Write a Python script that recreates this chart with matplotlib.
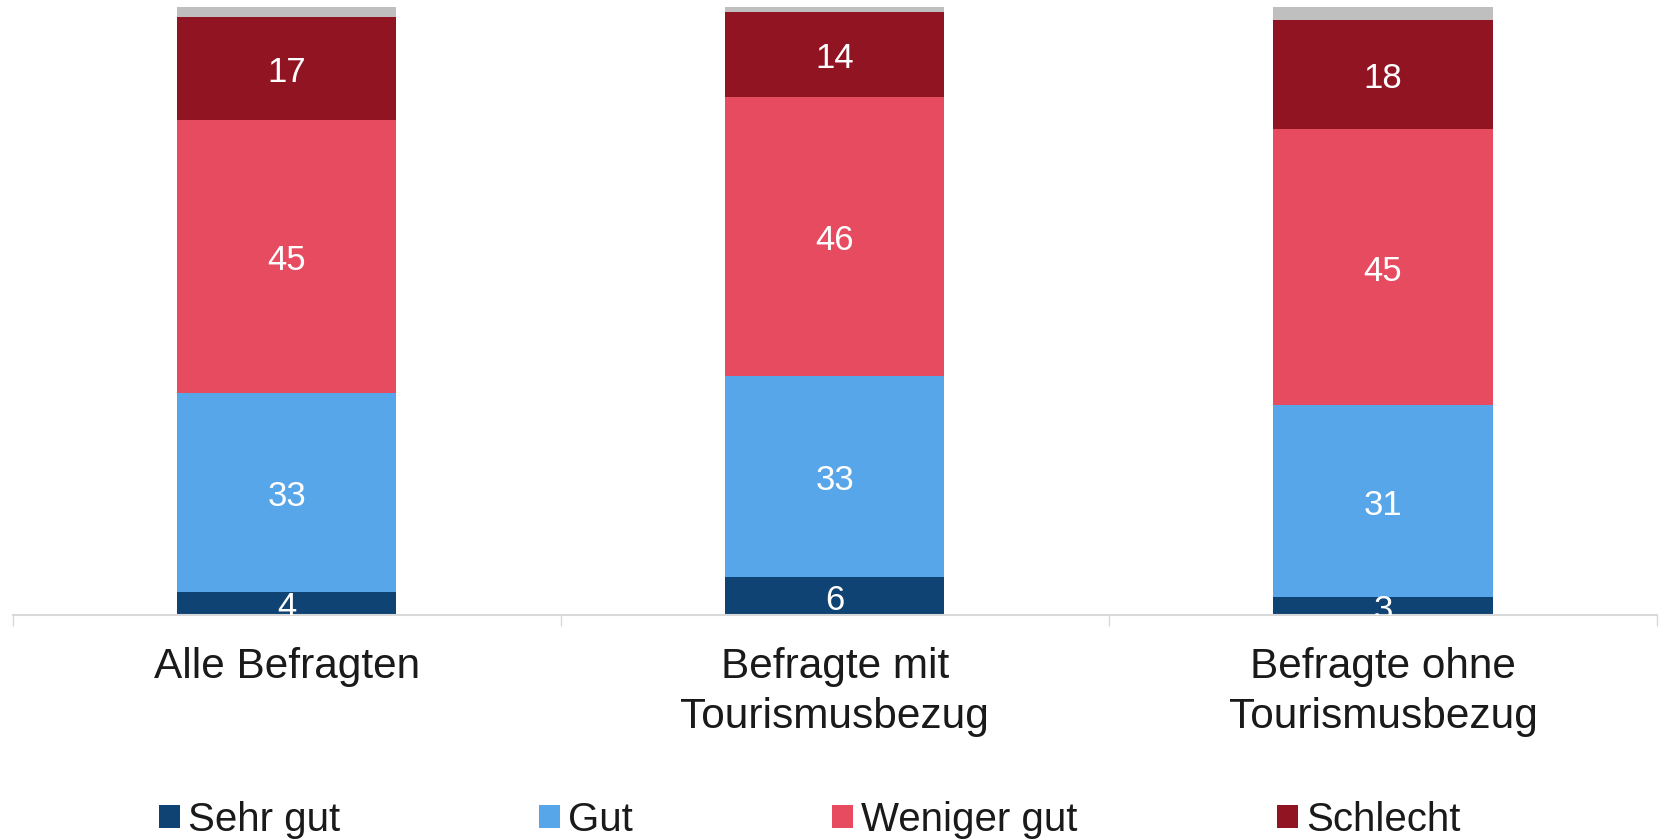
import matplotlib
matplotlib.use("Agg")
import matplotlib.pyplot as plt
import numpy as np

plt.rcParams['font.family'] = ['Liberation Sans', 'DejaVu Sans']

categories = ["Alle Befragten", "Befragte mit\nTourismusbezug", "Befragte ohne\nTourismusbezug"]
series_names = ["Sehr gut", "Gut", "Weniger gut", "Schlecht"]
sehr_gut = [3.8, 6.3, 3.0]
gut = [32.8, 33.1, 31.5]
weniger_gut = [44.8, 45.8, 45.5]
schlecht = [17.1, 14.1, 17.9]
keine_angabe = [1.5, 0.7, 2.1]
labels_sehr_gut = ["4", "6", "3"]
labels_gut = ["33", "33", "31"]
labels_weniger_gut = ["45", "46", "45"]
labels_schlecht = ["17", "14", "18"]

colors = ["#0F4374", "#57A6E9", "#E74B5F", "#911422"]
gray = "#BFBFBF"

fig = plt.figure(figsize=(16.59, 8.39), dpi=100)
ax = fig.add_axes([12.7/1659, 1-615/839, 1644.3/1659, (615-7.4)/839])

x = np.arange(len(categories))
width = 0.4
bottom = np.zeros(len(categories))
series = [sehr_gut, gut, weniger_gut, schlecht]
labels = [labels_sehr_gut, labels_gut, labels_weniger_gut, labels_schlecht]
handles = []
for vals, lab, col, name in zip(series, labels, colors, series_names):
    vals = np.array(vals)
    b = ax.bar(x, vals, width, bottom=bottom, color=col, label=name, linewidth=0)
    handles.append(b)
    for xi, v, bt, t in zip(x, vals, bottom, lab):
        ax.annotate(t, (xi, bt + v/2), xytext=(0, -3), textcoords='offset points',
                    ha='center', va='center', color='white',
                    fontsize=25, annotation_clip=False, clip_on=True)
    bottom = bottom + vals
ax.bar(x, keine_angabe, width, bottom=bottom, color=gray, linewidth=0)

ax.set_xlim(-0.5, 2.5)
ax.set_ylim(0, 100)
ax.set_yticks([])
for s in ['left', 'right', 'top']:
    ax.spines[s].set_visible(False)
ax.spines['bottom'].set_color('#D9D9D9')
ax.spines['bottom'].set_linewidth(1.5)
ax.set_xticks(x)
ax.set_xticklabels(categories, fontsize=30.5, color='#1A1A1A', linespacing=1.33)
ax.tick_params(axis='x', which='major', length=0, pad=23)
ax.set_xticks([-0.5, 0.5, 1.5, 2.5], minor=True)
ax.tick_params(axis='x', which='minor', length=8, width=1, color='#D9D9D9')

fig.legend(handles=handles, labels=series_names, loc='center left',
           bbox_to_anchor=(158.6/1659, 1-820/839), ncol=4, frameon=False,
           fontsize=29, handlelength=0.52, handleheight=0.52,
           handletextpad=0.2, columnspacing=4.95, borderpad=0,
           borderaxespad=0, labelcolor='#1A1A1A')

fig.savefig("out.png", dpi=100)
